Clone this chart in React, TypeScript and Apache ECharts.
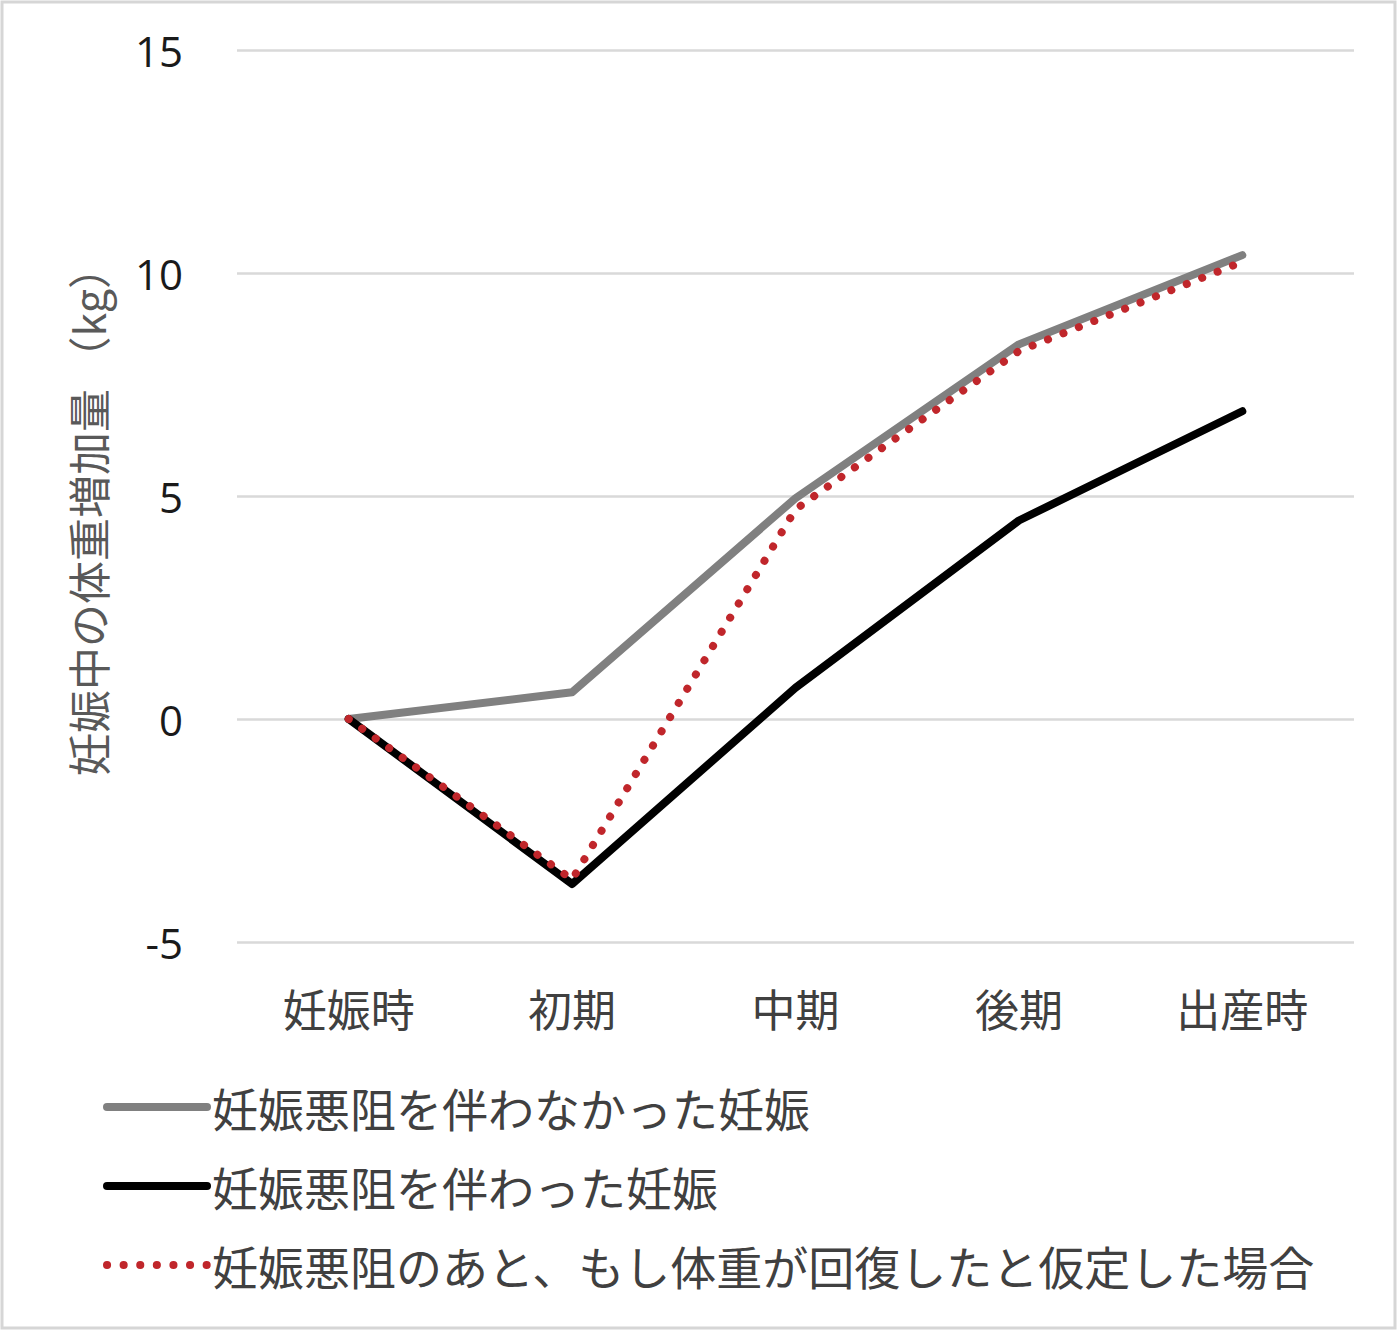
import { useEffect, useRef } from 'react';
import * as echarts from 'echarts';
import type { EChartsOption } from 'echarts';

const categories = ['妊娠時', '初期', '中期', '後期', '出産時'];
const yTicks = [-5, 0, 5, 10, 15];

const seriesNames = [
  '妊娠悪阻を伴わなかった妊娠',
  '妊娠悪阻を伴わった妊娠',
  '妊娠悪阻のあと、もし体重が回復したと仮定した場合',
];

const withoutHG = [0, 0.6, 4.95, 8.4, 10.4];
const withHG = [0, -3.7, 0.7, 4.45, 6.9];
const recovered = [0, -3.6, 4.7, 8.25, 10.25];

const JP_FONT = '"Noto Sans CJK JP", "Noto Sans", sans-serif';
const NUM_FONT = '"Open Sans", "Noto Sans", sans-serif';

const GRAY = '#808080';
const BLACK = '#000000';
const RED = '#c0262b';
const DOTS = [0.1, 16.5];

export default function App() {
  const chartRef = useRef<HTMLDivElement>(null);

  useEffect(() => {
    if (!chartRef.current) return;
    const chart = echarts.init(chartRef.current, undefined, { renderer: 'svg' });

    const option: EChartsOption = {
      animation: false,
      backgroundColor: '#ffffff',
      graphic: [
        {
          type: 'rect',
          shape: { x: 2, y: 2, width: 1393, height: 1326 },
          style: { fill: 'none', stroke: '#d6d6d6', lineWidth: 3 },
          silent: true,
        },
      ],
      grid: {
        left: 237,
        right: 44,
        top: 50,
        bottom: 390,
      },
      legend: {
        orient: 'vertical',
        left: 98,
        top: 1079,
        itemWidth: 100,
        itemHeight: 10,
        itemGap: 33,
        itemStyle: { opacity: 0 },
        data: [
          { name: seriesNames[0], lineStyle: { color: GRAY, width: 8, cap: 'round' } },
          { name: seriesNames[1], lineStyle: { color: BLACK, width: 8, cap: 'round' } },
          {
            name: seriesNames[2],
            lineStyle: { color: RED, width: 8, type: DOTS, cap: 'round' },
          },
        ],
        textStyle: {
          color: '#404040',
          fontSize: 46,
          lineHeight: 46,
          fontFamily: JP_FONT,
        },
      },
      xAxis: {
        type: 'category',
        data: categories,
        boundaryGap: true,
        axisLine: { show: false },
        axisTick: { show: false },
        axisLabel: {
          color: '#404040',
          fontSize: 44,
          fontFamily: JP_FONT,
          margin: 44,
        },
      },
      yAxis: {
        type: 'value',
        min: yTicks[0],
        max: yTicks[yTicks.length - 1],
        interval: 5,
        name: '妊娠中の体重増加量 （kg）',
        nameLocation: 'middle',
        nameGap: 129,
        nameTextStyle: {
          color: '#595959',
          fontSize: 43,
          fontFamily: JP_FONT,
          padding: [0, 30, 0, 0],
        },
        axisLine: { show: false },
        axisTick: { show: false },
        axisLabel: {
          color: '#1a1a1a',
          fontSize: 42,
          fontFamily: NUM_FONT,
          margin: 54,
        },
        splitLine: {
          lineStyle: { color: '#d9d9d9', width: 2.5 },
        },
      },
      series: [
        {
          name: seriesNames[0],
          type: 'line',
          data: withoutHG,
          symbol: 'none',
          lineStyle: { color: GRAY, width: 8, cap: 'round', join: 'round' },
          itemStyle: { color: GRAY },
        },
        {
          name: seriesNames[1],
          type: 'line',
          data: withHG,
          symbol: 'none',
          lineStyle: { color: BLACK, width: 8, cap: 'round', join: 'round' },
          itemStyle: { color: BLACK },
        },
        {
          name: seriesNames[2],
          type: 'line',
          data: recovered,
          symbol: 'none',
          lineStyle: {
            color: RED,
            width: 8,
            type: DOTS,
            cap: 'round',
            join: 'round',
          },
          itemStyle: { color: RED },
        },
      ],
    };

    chart.setOption(option);

    return () => {
      chart.dispose();
    };
  }, []);

  return (
    <div
      ref={chartRef}
      style={{ position: 'absolute', left: 0, top: 0, width: 1398, height: 1332 }}
    />
  );
}
